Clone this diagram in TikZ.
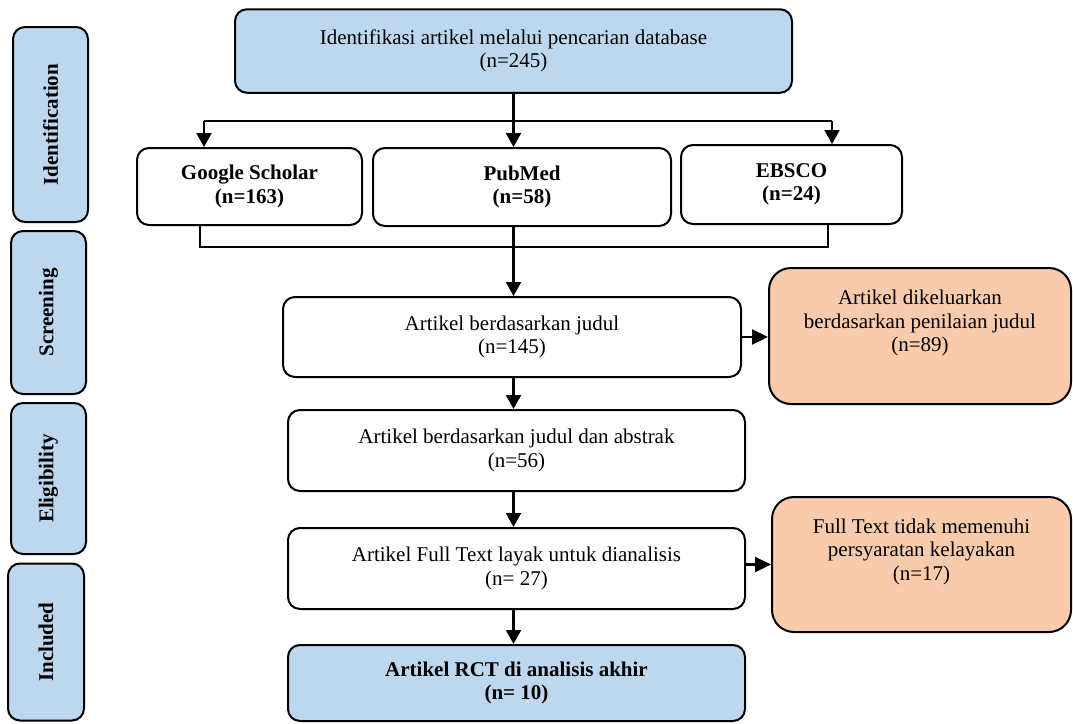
\documentclass[tikz,border=0pt]{standalone}
\usepackage{fontspec}
\setmainfont{Liberation Serif}
\usetikzlibrary{arrows.meta}
\definecolor{boxblue}{RGB}{189,215,238}
\definecolor{boxorange}{RGB}{248,203,173}
\begin{document}
\begin{tikzpicture}[x=1pt,y=-1pt,
  box/.style={draw, line width=2pt, rounded corners=12pt, align=center, inner sep=0pt, fill=white,
    font=\fontsize{21}{23.5}\selectfont},
  bluebox/.style={box, fill=boxblue},
  orangebox/.style={box, fill=boxorange, rounded corners=22pt},
  phase/.style={box, fill=boxblue, rotate=90, font=\fontsize{21}{23.5}\selectfont\bfseries},
  txt/.style={align=center, inner sep=0pt, font=\fontsize{21}{23.5}\selectfont},
  ln/.style={line width=2.2pt},
  arr/.style={line width=2.2pt, -{Triangle[width=15pt,length=14pt]}},
  harr/.style={line width=2.2pt, -{Triangle[width=15pt,length=16pt]}}]
\useasboundingbox (0,0) rectangle (1073,723);
\fill[white] (0,0) rectangle (1073,723);

% phase labels
\node[phase, minimum width=195pt, minimum height=75pt] (idl) at (50.5,124.5) {Identification};
\node[phase, minimum width=163pt, minimum height=75pt] (scr) at (48.5,312.5) {Screening};
\node[phase, minimum width=151pt, minimum height=75pt] (eli) at (48.5,478.5) {Eligibility};
\node[phase, minimum width=157pt, minimum height=76pt] (inc) at (46,642) {Included};

% main boxes
\node[bluebox, minimum width=557pt, minimum height=83.5pt] (top) at (513.5,51)
  {Identifikasi artikel melalui pencarian database\\(n=245)};
\node[box, minimum width=225pt, minimum height=77pt, font=\fontsize{21}{23.5}\selectfont\bfseries] (gs) at (249.5,186.5)
  {Google Scholar\\(n=163)};
\node[box, minimum width=298pt, minimum height=78pt, font=\fontsize{21}{23.5}\selectfont\bfseries] (pm) at (522,187)
  {PubMed\\(n=58)};
\node[box, minimum width=221pt, minimum height=79pt, font=\fontsize{21}{23.5}\selectfont\bfseries] (eb) at (791.5,184.5)
  {EBSCO\\(n=24)};
\node[box, minimum width=458pt, minimum height=80pt] (j1) at (512,337)
  {Artikel berdasarkan judul\\(n=145)};
\node[orangebox, minimum width=302pt, minimum height=136pt] (ex1) at (920,336) {};
\node[txt] (ex1t) at (920,323) {Artikel dikeluarkan\\berdasarkan penilaian judul\\(n=89)};
\node[box, minimum width=457pt, minimum height=81pt] (j2) at (516.5,450.5)
  {Artikel berdasarkan judul dan abstrak\\(n=56)};
\node[box, minimum width=457pt, minimum height=81pt] (ft) at (516.5,568.5)
  {Artikel Full Text layak untuk dianalisis\\(n= 27)};
\node[orangebox, minimum width=299pt, minimum height=135pt] (ex2) at (921.5,564.5) {};
\node[txt] (ex2t) at (921.5,551.5) {Full Text tidak memenuhi\\persyaratan kelayakan\\(n=17)};
\node[bluebox, minimum width=457pt, minimum height=76pt, font=\fontsize{21}{23.5}\selectfont\bfseries] (fin) at (516.5,683)
  {Artikel RCT di analisis akhir\\(n= 10)};

% connectors
\coordinate (sl) at (204,121);
\coordinate (sr) at (832,121);
\coordinate (bl) at (200,247);
\coordinate (br) at (828,247);
\draw[ln] (sl) -- (sr);
\draw[arr] (top.south) -- (top.south |- pm.north);
\draw[arr] (sl) -- (sl |- gs.north);
\draw[arr] (sr) -- (sr |- eb.north);
\draw[ln] (bl |- gs.south) -- (bl) -- (br) -- (br |- eb.south);
\draw[arr] (top.south |- pm.south) -- (top.south |- j1.north);
\draw[arr] (top.south |- j1.south) -- (top.south |- j2.north);
\draw[arr] (top.south |- j2.south) -- (top.south |- ft.north);
\draw[arr] (top.south |- ft.south) -- (top.south |- fin.north);
\draw[harr] (j1.east) -- (j1.east -| ex1.west);
\draw[harr] (ex2.west -| ft.east) -- (ex2.west);
\end{tikzpicture}
\end{document}
